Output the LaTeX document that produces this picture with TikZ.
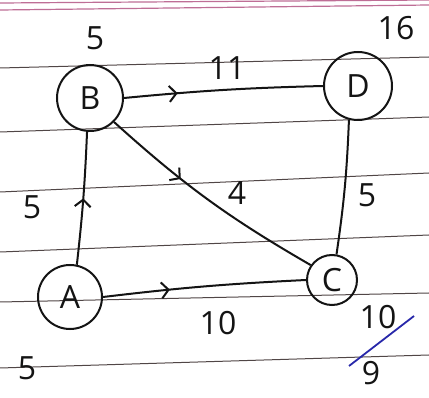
\documentclass[tikz,border=0pt]{standalone}
\usepackage{fontspec}
\setmainfont{Open Sans}
\usetikzlibrary{arrows.meta,decorations.markings}
\definecolor{rule}{RGB}{80,70,70}
\definecolor{pinkrule}{RGB}{190,110,150}
\definecolor{ink}{RGB}{20,20,20}
\definecolor{blueink}{RGB}{40,40,170}
\tikzset{
  vtx/.style={draw=ink, line width=2pt, circle, minimum size=#1, inner sep=0pt, font=\fontsize{32}{32}\selectfont, text=ink},
  vtx/.default=60pt,
  lbl/.style={font=\fontsize{32}{32}\selectfont, text=ink, inner sep=0pt},
  edge/.style={draw=ink, line width=2pt},
  midarrow/.style={decoration={markings, mark=at position #1 with {\arrow{Straight Barb[length=7pt,width=16pt,line width=2pt]}}}, postaction={decorate}},
  ruled/.style={draw=rule, line width=1pt},
}
\begin{document}
\begin{tikzpicture}[x=1pt,y=-1pt]
\useasboundingbox[fill=white] (0,0) rectangle (429,398);
% ruled paper
\draw[draw=pinkrule, line width=1.2pt] (0,3) -- (429,0);
\draw[draw=pinkrule, line width=1.2pt] (0,10) -- (429,5);
\draw[ruled] (0,68) -- (429,57);
\draw[ruled] (0,132) -- (429,117);
\draw[ruled] (0,192) -- (429,173);
\draw[ruled] (0,252) -- (429,235);
\draw[ruled] (0,302) -- (429,293);
\draw[ruled] (0,368) -- (429,355);
% vertices
\node[vtx=66pt] (B) at (90,98) {B};
\node[vtx=68pt] (D) at (358,86) {D};
\node[vtx=64pt] (A) at (70,297) {A};
\node[vtx=50pt] (C) at (332,280) {C};
% edges
\draw[edge, midarrow=0.27] (B.east) to[bend left=2] (D.west);
\draw[edge, midarrow=0.36] (B.315) to[bend right=6] (C.145);
\draw[edge, midarrow=0.5] (A.78) to[bend right=2] (B.265);
\draw[edge, midarrow=0.33] (A.east) to[bend left=2] (C.west);
\draw[edge] (D.255) to[bend left=3] (C.80);
% labels
\node[lbl] (wB) at (95,38) {5};
\node[lbl] (wD) at (396,28) {16};
\node[lbl] (wBD) at (227,68) {11};
\node[lbl] (wBC) at (237,193) {4};
\node[lbl] (wAB) at (32,207) {5};
\node[lbl] (wDC) at (367,195) {5};
\node[lbl] (wAC) at (218,323) {10};
\node[lbl] (wA) at (27,368) {5};
\node[lbl] (wC1) at (378,317) {10};
\node[lbl] (wC2) at (371,373) {9};
\draw[draw=blueink, line width=1.8pt] (349,366) -- (414,316);
\end{tikzpicture}
\end{document}
